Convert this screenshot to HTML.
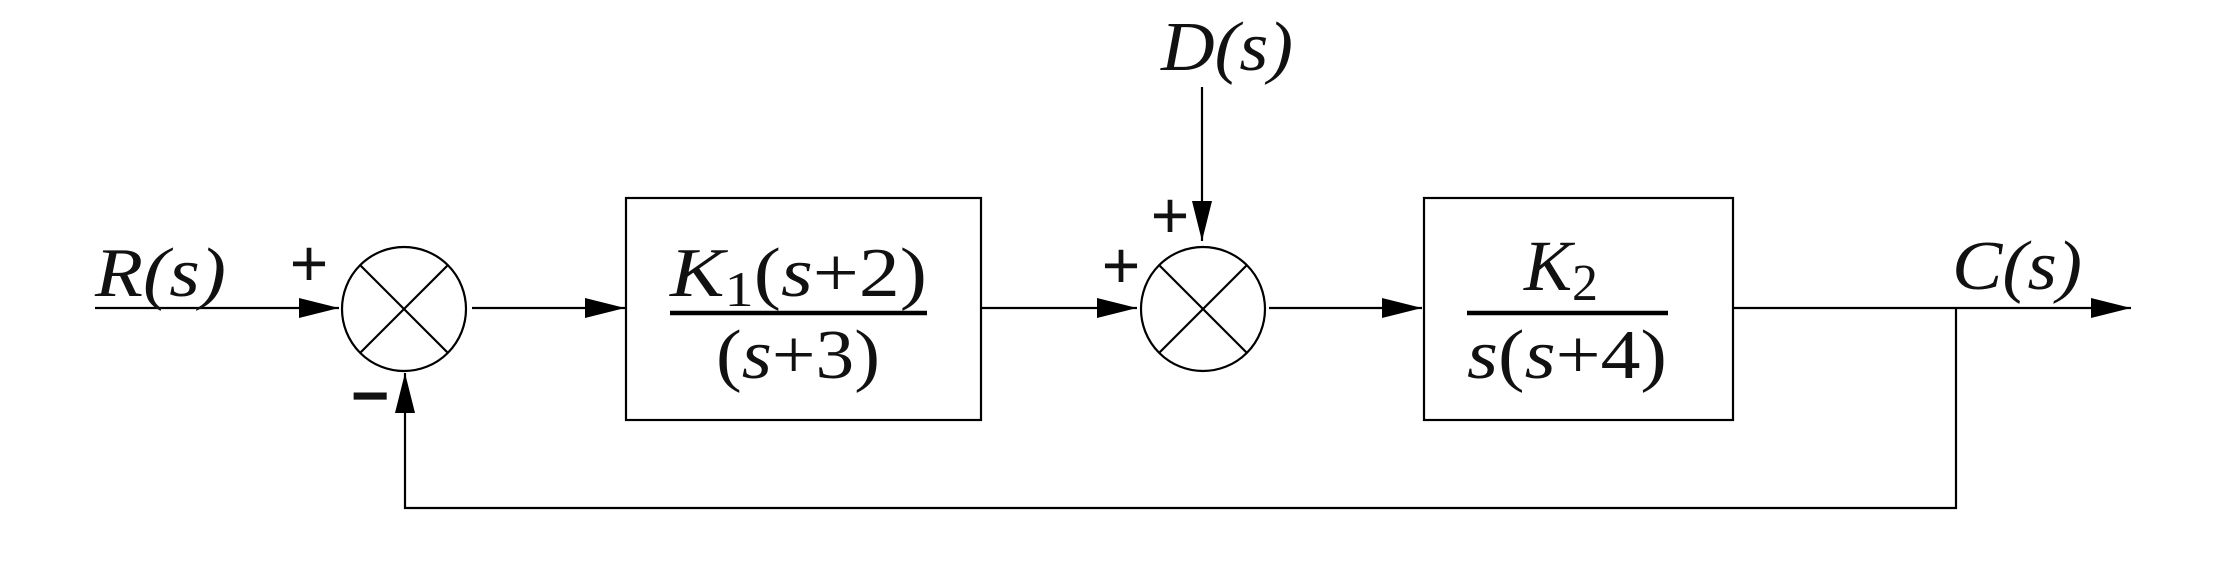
<!DOCTYPE html>
<html><head><meta charset="utf-8"><style>
html,body{margin:0;padding:0;background:#fff}
svg{display:block}
text{font-family:"Liberation Serif",serif;fill:#111}
.it{font-style:italic}
.pm{font-family:"Liberation Sans",sans-serif}
</style></head><body>
<svg width="2216" height="566" viewBox="0 0 2216 566">
<defs>
<marker id="ah" markerWidth="40" markerHeight="20" refX="40" refY="10" orient="auto" markerUnits="userSpaceOnUse">
<path d="M0,0 L40,10 L0,20 Z" fill="#000"/>
</marker>
</defs>
<g stroke="#000" stroke-width="2.2" fill="none">
<line x1="95" y1="308" x2="339" y2="308" marker-end="url(#ah)"/>
<g>
<circle cx="404" cy="309" r="62"/>
<line x1="360" y1="265" x2="448" y2="353"/><line x1="448" y1="265" x2="360" y2="353"/>
</g>
<line x1="472" y1="308" x2="625" y2="308" marker-end="url(#ah)"/>
<rect x="626" y="198" width="355" height="222"/>
<line x1="981" y1="308" x2="1137" y2="308" marker-end="url(#ah)"/>
<g>
<circle cx="1203" cy="309" r="62"/>
<line x1="1159" y1="265" x2="1247" y2="353"/><line x1="1247" y1="265" x2="1159" y2="353"/>
</g>
<line x1="1202" y1="87" x2="1202" y2="241" marker-end="url(#ah)"/>
<line x1="1269" y1="308" x2="1422" y2="308" marker-end="url(#ah)"/>
<rect x="1424" y="198" width="309" height="222"/>
<line x1="1733" y1="308" x2="2131" y2="308" marker-end="url(#ah)"/>
<polyline points="1956,308 1956,508 405,508 405,373" marker-end="url(#ah)"/>
</g>
<line x1="670" y1="313" x2="927" y2="313" stroke="#000" stroke-width="4.5"/>
<line x1="1467" y1="313" x2="1668" y2="313" stroke="#000" stroke-width="4.5"/>

<text x="95" y="296" font-size="70" class="it" textLength="131" lengthAdjust="spacingAndGlyphs">R(s)</text>
<text x="309" y="286" font-size="66" class="pm" text-anchor="middle">+</text>
<text x="370" y="418" font-size="66" class="pm" font-weight="bold" text-anchor="middle">−</text>
<text x="670" y="296" font-size="70" textLength="257" lengthAdjust="spacingAndGlyphs"><tspan class="it">K</tspan><tspan font-size="50" dy="10">1</tspan><tspan dy="-10">(</tspan><tspan class="it">s</tspan>+2)</text>
<text x="716" y="378" font-size="70" textLength="164" lengthAdjust="spacingAndGlyphs">(<tspan class="it">s</tspan>+3)</text>
<text x="1161" y="70" font-size="70" class="it" textLength="132" lengthAdjust="spacingAndGlyphs">D(s)</text>
<text x="1121" y="288" font-size="66" class="pm" text-anchor="middle">+</text>
<text x="1170" y="238" font-size="66" class="pm" text-anchor="middle">+</text>
<text x="1524" y="290" font-size="72"><tspan class="it">K</tspan><tspan font-size="52" dy="10">2</tspan></text>
<text x="1467" y="378" font-size="70" textLength="200" lengthAdjust="spacingAndGlyphs"><tspan class="it">s</tspan>(<tspan class="it">s</tspan>+4)</text>
<text x="1952" y="289" font-size="70" class="it" textLength="130" lengthAdjust="spacingAndGlyphs">C(s)</text>
</svg>
</body></html>
